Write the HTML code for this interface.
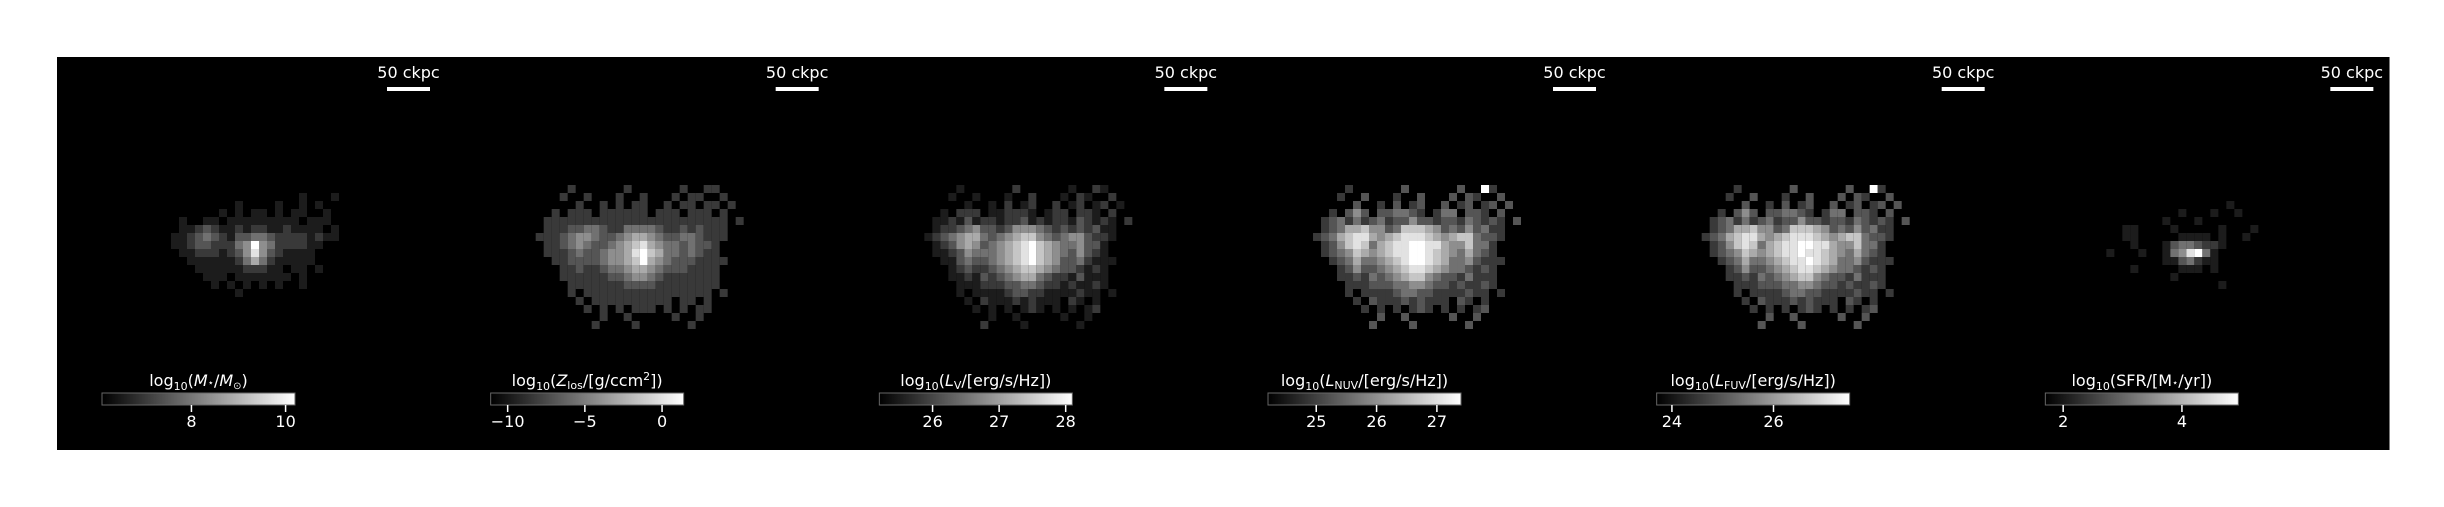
<!DOCTYPE html>
<html><head><meta charset="utf-8"><style>
body{margin:0;background:#fff;width:2444px;height:507px;overflow:hidden}
svg{display:block}
text{font-family:"DejaVu Sans","Liberation Sans",sans-serif;fill:#fff}
</style></head><body>
<svg id="fig" width="2444" height="507" viewBox="0 0 2444 507" xmlns="http://www.w3.org/2000/svg">
<defs><linearGradient id="gray" x1="0" x2="1" y1="0" y2="0"><stop offset="0" stop-color="#000"/><stop offset="1" stop-color="#fff"/></linearGradient></defs>
</svg>
<script>
// ---- data ----
const panelLabels = [
  'log<tspan font-size="11" dy="4">10</tspan><tspan dy="-4">(</tspan><tspan font-style="italic">M</tspan><tspan font-size="10">⋆</tspan>/<tspan font-style="italic">M</tspan><tspan font-size="10" dy="3">⊙</tspan><tspan dy="-3">)</tspan>',
  'log<tspan font-size="11" dy="4">10</tspan><tspan dy="-4">(</tspan><tspan font-style="italic">Z</tspan><tspan font-size="11" dy="3">los</tspan><tspan dy="-3">/[g/ccm</tspan><tspan font-size="11" dy="-6">2</tspan><tspan dy="6">])</tspan>',
  'log<tspan font-size="11" dy="4">10</tspan><tspan dy="-4">(</tspan><tspan font-style="italic">L</tspan><tspan font-size="11" dy="3">V</tspan><tspan dy="-3">/[erg/s/Hz])</tspan>',
  'log<tspan font-size="11" dy="4">10</tspan><tspan dy="-4">(</tspan><tspan font-style="italic">L</tspan><tspan font-size="11" dy="3">NUV</tspan><tspan dy="-3">/[erg/s/Hz])</tspan>',
  'log<tspan font-size="11" dy="4">10</tspan><tspan dy="-4">(</tspan><tspan font-style="italic">L</tspan><tspan font-size="11" dy="3">FUV</tspan><tspan dy="-3">/[erg/s/Hz])</tspan>',
  'log<tspan font-size="11" dy="4">10</tspan><tspan dy="-4">(SFR/[M</tspan><tspan font-size="10">⋆</tspan>/yr])'
];
const cbarMin = [6.1, -11.1, 25.2, 24.2, 23.7, 1.7];
const cbarMax = [10.2, 1.4, 28.1, 27.4, 27.5, 4.95];
const cbarTicks = [[8,10],[-10,-5,0],[26,27,28],[25,26,27],[24,26],[2,4]];
const cbarTickLabels = [['8','10'],['−10','−5','0'],['26','27','28'],['25','26','27'],['24','26'],['2','4']];
const scaleLabel = '50 ckpc';

const grid1 = [
"000000000000000000000000000000",
"000000000000000000001000100000",
"000000000000100001001010000000",
"000000000010101101011001000000",
"000001001101111111110111000000",
"000001123211212211211110100000",
"000011234321334432222121100000",
"000011233222459542222110000000",
"000001122212358532111100000000",
"000000111111246421111100000000",
"000000011111122211011010000000",
"000000001110111111101000000000",
"000000000101010101001000000000",
"000000000000100000000000000000"];
const grid2 = [
"000002000000200000020022000000",
"000020020002002000202200200000",
"000000200202022002022022020000",
"000202220222222022202220200000",
"002222222222222222222222202000",
"002223344322444432232322200000",
"022234554334566543344322200000",
"002234543345678654434332000000",
"002223433455689764434322000000",
"000223333455679654333222200000",
"000022322344566543332222000000",
"000022222233455432222222000000",
"000002222222333322222222000000",
"000002022222222222222220200000",
"000000202222222222022020000000",
"000000020202022202020220000000",
"000000000200200000200200000000",
"000000002000020000002000000000"];
const grid3 = [
"000001000000200000010021000000",
"000010010001002000102100200000",
"000000100102012002012012010000",
"000102220112221012202210200000",
"001121312212231212213212102000",
"001223453323555432323231100000",
"012345664345677543455322100000",
"001235653456789765445331000000",
"001123544456789765435321000000",
"000113433456789765334211100000",
"000012322345677654332121000000",
"000011213234566432213111000000",
"000001112223344322121121000000",
"000001011112332211112110100000",
"000000102111212111021010000000",
"000000010101012101010120000000",
"000000000100100000100100000000",
"000000002000010000001000000000"];
const grid4 = [
"000002000000300000030092000000",
"000020030002003000303200300000",
"000000300203023003023023030000",
"000203530334432024403320300000",
"002342423423353323324323203000",
"002346675534777653435342200000",
"023467886567888765677433200000",
"002357874678899886557442000000",
"002345765678899876546432000000",
"000234644567899876445322200000",
"000023533456788765443232000000",
"000022324345677543324222000000",
"000002223334455433232232000000",
"000002022223443322223220200000",
"000000203222323222032020000000",
"000000020202023202020230000000",
"000000000300300000300300000000",
"000000003000030000003000000000"];
const grid5 = [
"000002000000300000030092000000",
"000020030002003000303200300000",
"000000300203023003023023030000",
"000203530334432024403320300000",
"002342423423353323324323203000",
"002346675534777653435342200000",
"023467886567888765677433200000",
"002357874678899886557442000000",
"002345765678898876546432000000",
"000234644567889876445322200000",
"000023533456788765443232000000",
"000022324345677543324222000000",
"000002223334455433232232000000",
"000002022223443322223220200000",
"000000203222323222032020000000",
"000000020202023202020230000000",
"000000000300300000300300000000",
"000000003000030000003000000000"];
const grid6 = [
"000000000000000000000000000000",
"000000000000000000000000000000",
"000000000000000000100000000000",
"000000000000100010010000000000",
"000000000010001000000000000000",
"000001100001000001000100000000",
"000001100000111101001000000000",
"000000100013443221000000000000",
"000100010014589410000000000000",
"000000000011342110000000000000",
"000000100000111010000000000000",
"000000000001000000000000000000",
"000000000000000001000000000000",
"000000000000000000000000000000"];
const grids = [grid1, grid2, grid3, grid4, grid5, grid6];

// ---- layout ----
const svg = document.getElementById('fig');
const NS = 'http://www.w3.org/2000/svg';
const P0 = 57, PW = 388.67, PT = 57, PH = 393;
const CELL = 8, GX = 82, GY = 185;
const CB_X = 45, CB_W = 193, CB_Y = 393, CB_H = 12;
function mk(tag, attrs){const e=document.createElementNS(NS,tag);for(const k in attrs)e.setAttribute(k,attrs[k]);svg.appendChild(e);return e;}

for (let p = 0; p < 6; p++) {
  const left = P0 + p * PW;
  const bg = mk('rect', {x:left, y:PT, width:PW+0.5, height:PH, fill:'#000'});
  
  
  const g = grids[p];
  for (let r = 0; r < g.length; r++) {
    for (let c = 0; c < g[r].length; c++) {
      const v = +g[r][c];
      if (!v) continue;
      const gv = Math.min(255, Math.round(v * 28.3));
      const cell = mk('rect', {x:left+GX+c*CELL, y:GY+r*CELL, width:CELL, height:CELL, fill:`rgb(${gv},${gv},${gv})`});
      
      
    }
  }
  const sb = mk('rect', {x:left+330, y:87, width:43, height:4, fill:'#fff'});
  
  
  const st = mk('text', {x:left+351.5, y:78, 'font-size':16, 'text-anchor':'middle'});
  st.textContent = scaleLabel;
  
  
  const cb = mk('rect', {x:left+CB_X, y:CB_Y, width:CB_W, height:CB_H, fill:'url(#gray)', stroke:'#666', 'stroke-width':1});
  
  
  const lab = mk('text', {x:left+CB_X+CB_W/2, y:386, 'font-size':16, 'text-anchor':'middle'});
  lab.innerHTML = panelLabels[p];
  
  
  const sx = v => left + CB_X + (v - cbarMin[p]) / (cbarMax[p] - cbarMin[p]) * CB_W;
  cbarTicks[p].forEach((t, i) => {
    const tx = sx(t);
    const tk = mk('line', {x1:tx, x2:tx, y1:CB_Y+CB_H, y2:CB_Y+CB_H+7, stroke:'#fff', 'stroke-width':1.5});
    
    
    const tl = mk('text', {x:tx, y:427, 'font-size':16, 'text-anchor':'middle'});
    tl.textContent = cbarTickLabels[p][i];
    
    
  });
}
</script>
</body></html>
